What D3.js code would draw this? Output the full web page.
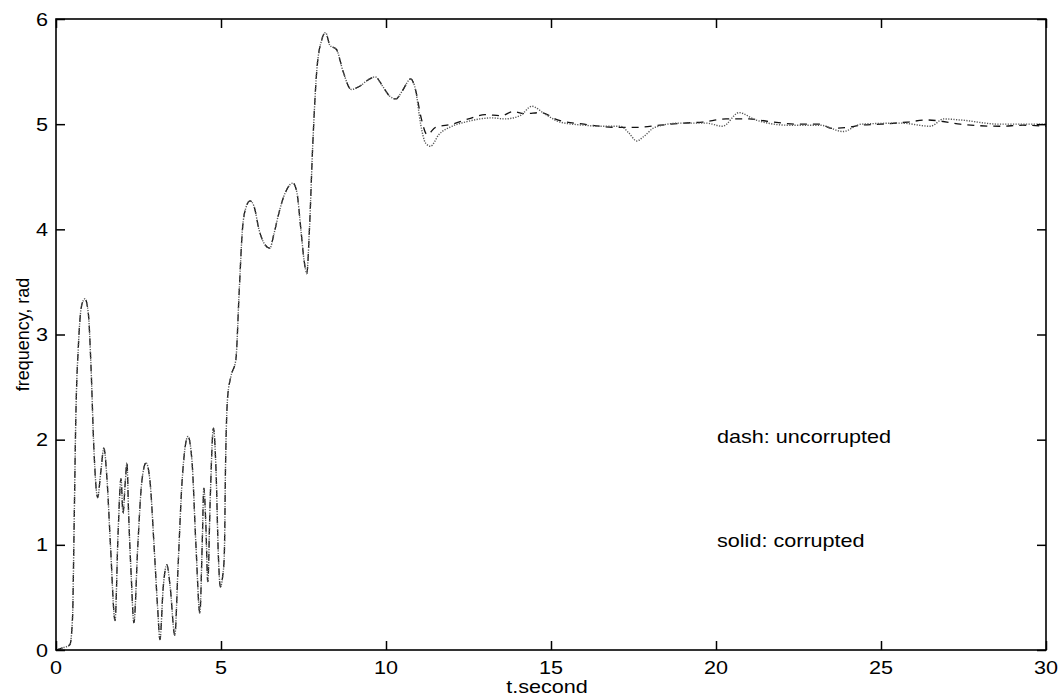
<!DOCTYPE html>
<html>
<head>
<meta charset="utf-8">
<script src="https://cdn.jsdelivr.net/npm/d3@7"></script>
<style>
  body { margin: 0; background: #fff; }
  text { font-family: "Liberation Sans", Arial, Helvetica, sans-serif; fill: #000; }
</style>
</head>
<body>
<script>
// shared part of both runs, [t, frequency]
const commonPart = [
  [0, 0], [0.2, 0.02], [0.42, 0.05], [0.5, 0.3], [0.55, 1.2], [0.6, 2.2], [0.68, 2.9],
  [0.78, 3.28], [0.88, 3.34], [0.98, 3.2], [1.06, 2.7], [1.15, 1.9], [1.26, 1.45],
  [1.36, 1.7], [1.45, 1.92], [1.55, 1.6], [1.65, 1.0], [1.79, 0.28], [1.88, 1.1],
  [1.97, 1.63], [2.03, 1.3], [2.1, 1.6], [2.15, 1.78], [2.2, 1.3], [2.28, 0.7],
  [2.36, 0.26], [2.48, 1.0], [2.6, 1.6], [2.73, 1.78], [2.85, 1.6], [2.97, 1.0],
  [3.08, 0.4], [3.15, 0.1], [3.25, 0.6], [3.36, 0.81], [3.46, 0.6], [3.6, 0.14],
  [3.7, 0.8], [3.82, 1.6], [4.0, 2.03], [4.12, 1.8], [4.24, 1.0], [4.36, 0.35],
  [4.43, 1.0], [4.48, 1.54], [4.54, 1.2], [4.6, 0.65], [4.67, 1.4], [4.77, 2.11],
  [4.85, 1.7], [4.92, 0.9], [4.98, 0.6], [5.05, 0.7], [5.1, 0.9], [5.14, 1.8],
  [5.2, 2.4], [5.3, 2.6], [5.45, 2.76], [5.55, 3.4], [5.65, 4.0], [5.75, 4.2],
  [5.88, 4.27], [6.0, 4.22], [6.15, 4.0], [6.3, 3.87], [6.48, 3.82], [6.6, 3.95],
  [6.75, 4.15], [6.95, 4.35], [7.18, 4.44], [7.3, 4.35], [7.42, 4.0], [7.52, 3.7],
  [7.6, 3.58], [7.68, 4.0], [7.78, 4.8], [7.9, 5.5], [8.05, 5.8], [8.17, 5.87],
  [8.3, 5.75], [8.5, 5.71], [8.7, 5.5], [8.95, 5.33], [9.2, 5.36], [9.45, 5.42],
  [9.67, 5.45], [9.9, 5.36], [10.1, 5.27], [10.3, 5.24], [10.5, 5.32], [10.75, 5.43]
];

const corruptedTail = [
  [10.9, 5.32], [11.05, 5.0], [11.2, 4.82], [11.35, 4.79], [11.6, 4.9], [12.0, 4.98],
  [12.4, 5.02], [12.85, 5.05], [13.2, 5.06], [13.6, 5.05], [14.06, 5.08], [14.42, 5.17],
  [14.8, 5.1], [15.27, 5.02], [16.0, 4.99], [16.5, 4.98], [17.1, 4.98], [17.35, 4.92],
  [17.6, 4.84], [17.8, 4.88], [18.15, 4.97], [18.9, 5.01], [19.7, 5.01], [20.2, 4.98],
  [20.7, 5.11], [21.2, 5.04], [22.2, 4.99], [23.15, 4.99], [23.85, 4.93], [24.4, 5.0],
  [25.6, 5.01], [26.5, 4.98], [26.9, 5.05], [27.4, 5.04], [28.6, 5.0], [30, 5.0]
];

const uncorruptedTail = [
  [10.9, 5.32], [11.05, 5.08], [11.25, 4.9], [11.5, 4.97], [12.0, 5.0], [12.5, 5.05],
  [13.0, 5.09], [13.5, 5.08], [13.85, 5.12], [14.2, 5.1], [14.7, 5.11], [15.2, 5.04],
  [16.0, 5.0], [17.0, 4.97], [17.6, 4.97], [18.3, 4.99], [19.0, 5.01], [19.6, 5.02],
  [20.3, 5.05], [21.0, 5.05], [21.5, 5.03], [22.5, 5.0], [23.15, 5.0], [23.5, 4.96],
  [24.0, 4.97], [24.4, 4.99], [25.0, 5.0], [25.8, 5.02], [26.4, 5.04], [27.0, 5.02],
  [27.4, 5.0], [28.6, 4.98], [29.3, 4.99], [30, 4.98]
];

const xTicks = [0, 5, 10, 15, 20, 25, 30];
const yTicks = [0, 1, 2, 3, 4, 5, 6];

const corrupted = commonPart.concat(corruptedTail);
const uncorrupted = commonPart.concat(uncorruptedTail);

const svgW = 1058, svgH = 698;
const plotL = 56, plotR = 1046, plotT = 19, plotB = 650;
const stretch = 1.2; // the scanned text is wider than tall

const x = d3.scaleLinear().domain([0, 30]).range([plotL, plotR]);
const y = d3.scaleLinear().domain([0, 6]).range([plotB, plotT]);

const svg = d3.select("body").append("svg")
  .attr("width", svgW)
  .attr("height", svgH);

const line = d3.line()
  .x(d => x(d[0]))
  .y(d => y(d[1]))
  .curve(d3.curveMonotoneX);

svg.append("path")
  .datum(uncorrupted)
  .attr("d", line)
  .attr("fill", "none")
  .attr("stroke", "#111")
  .attr("stroke-width", 1.3)
  .attr("stroke-dasharray", "7,6");

svg.append("path")
  .datum(corrupted)
  .attr("d", line)
  .attr("fill", "none")
  .attr("stroke", "#555")
  .attr("stroke-width", 1.4)
  .attr("stroke-dasharray", "1.2,1.4");

// axes: ticks inward on all four sides
const tickLen = 9;
svg.append("g").attr("transform", `translate(0,${plotB})`)
  .call(d3.axisBottom(x).tickValues(xTicks).tickSizeInner(-tickLen).tickSizeOuter(0).tickFormat(""));
svg.append("g").attr("transform", `translate(0,${plotT})`)
  .call(d3.axisTop(x).tickValues(xTicks).tickSizeInner(-tickLen).tickSizeOuter(0).tickFormat(""));
svg.append("g").attr("transform", `translate(${plotL},0)`)
  .call(d3.axisLeft(y).tickValues(yTicks).tickSizeInner(-tickLen).tickSizeOuter(0).tickFormat(""));
svg.append("g").attr("transform", `translate(${plotR},0)`)
  .call(d3.axisRight(y).tickValues(yTicks).tickSizeInner(-tickLen).tickSizeOuter(0).tickFormat(""));

svg.selectAll(".domain").remove();
svg.selectAll(".tick line").attr("stroke", "#000").attr("stroke-width", 1.5);

svg.append("rect")
  .attr("x", plotL).attr("y", plotT)
  .attr("width", plotR - plotL).attr("height", plotB - plotT)
  .attr("fill", "none")
  .attr("stroke", "#000")
  .attr("stroke-width", 1.6);

// tick labels
svg.selectAll(".xlab").data(xTicks).enter().append("text")
  .attr("transform", d => `translate(${x(d)},674) scale(${stretch},1)`)
  .attr("text-anchor", "middle")
  .style("font-size", "18px")
  .text(d => d);

svg.selectAll(".ylab").data(yTicks).enter().append("text")
  .attr("transform", d => `translate(48,${y(d) + 6.5}) scale(${stretch},1)`)
  .attr("text-anchor", "end")
  .style("font-size", "18px")
  .text(d => d);

svg.append("text")
  .attr("transform", `translate(${x(15) - 4},693) scale(${stretch},1)`)
  .attr("text-anchor", "middle")
  .style("font-size", "18px")
  .text("t.second");

svg.append("text")
  .attr("transform", `translate(29,${(plotT + plotB) / 2}) rotate(-90)`)
  .attr("text-anchor", "middle")
  .style("font-size", "18px")
  .text("frequency, rad");

svg.append("text")
  .attr("transform", `translate(717,443) scale(${stretch},1)`)
  .style("font-size", "18px")
  .text("dash: uncorrupted");

svg.append("text")
  .attr("transform", `translate(717,547) scale(${stretch},1)`)
  .style("font-size", "18px")
  .text("solid: corrupted");
</script>
</body>
</html>
